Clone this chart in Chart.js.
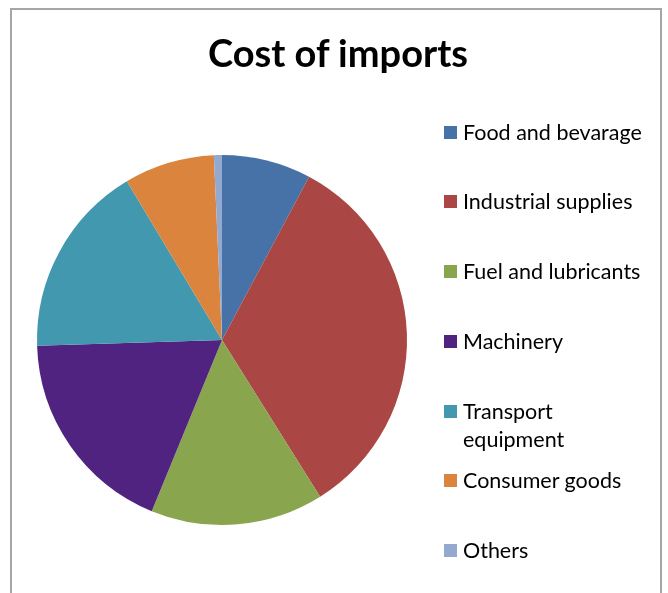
<!DOCTYPE html>
<html>
<head>
<meta charset="utf-8">
<title>Cost of imports</title>
<script src="https://cdn.jsdelivr.net/npm/chart.js@4.4.1/dist/chart.umd.min.js"></script>
<style>
  html, body { margin: 0; padding: 0; background: #fff; }
  #wrap { position: relative; width: 668px; height: 593px; overflow: hidden; }
  #frame {
    position: absolute; left: 10px; top: 8px; width: 652px; height: 620px;
    border: 2px solid #a6a6a6; box-sizing: border-box;
  }
  #pie { position: absolute; left: 0; top: 0; }
  #title {
    position: absolute; left: 138px; top: 28px; width: 400px;
    text-align: center; white-space: nowrap;
    font: bold 38px/48px Lato, "Open Sans", sans-serif; color: #000;
  }
  #legend { position: absolute; left: 444px; top: 0; margin: 0; padding: 0; list-style: none; }
  #legend li {
    position: absolute; left: 0; width: 210px;
    font: 21.5px/28.5px Lato, "Open Sans", sans-serif; color: #000;
  }
  #legend .box { position: absolute; left: 0; top: 8px; width: 13px; height: 13px; }
  #legend .txt { display: block; margin-left: 19px; max-width: 188px; }
</style>
</head>
<body>
<div id="wrap">
  <div id="frame"></div>
  <canvas id="pie" width="668" height="593"></canvas>
  <div id="title">Cost of imports</div>
  <ul id="legend"></ul>
</div>
<script>
// import categories and their share of the total (%)
const categories = ['Food and bevarage', 'Industrial supplies', 'Fuel and lubricants',
  'Machinery', 'Transport equipment', 'Consumer goods', 'Others'];
const shares = [7.8, 33.3, 15.1, 18.3, 16.9, 7.9, 0.7];
const colors = ['#4672a8', '#aa4644', '#89a54e', '#512381', '#4198af', '#db843d', '#93a9cf'];

const chart = new Chart(document.getElementById('pie'), {
  type: 'pie',
  data: {
    labels: categories,
    datasets: [{
      data: shares,
      backgroundColor: colors,
      borderWidth: 0,
      hoverOffset: 0
    }]
  },
  options: {
    responsive: false,
    animation: false,
    events: [],
    layout: { padding: { left: 37, top: 155, right: 261, bottom: 68 } },
    plugins: {
      legend: { display: false },
      title: { display: false },
      tooltip: { enabled: false }
    }
  }
});

// html legend built from the chart's own labels and colours
const legendEl = document.getElementById('legend');
const rowTop = 117.5, rowStep = 69.75;
chart.data.labels.forEach((label, i) => {
  const li = document.createElement('li');
  li.style.top = (rowTop + i * rowStep) + 'px';
  const box = document.createElement('span');
  box.className = 'box';
  box.style.background = chart.data.datasets[0].backgroundColor[i];
  const txt = document.createElement('span');
  txt.className = 'txt';
  txt.textContent = label;
  li.appendChild(box);
  li.appendChild(txt);
  legendEl.appendChild(li);
});
</script>
</body>
</html>
